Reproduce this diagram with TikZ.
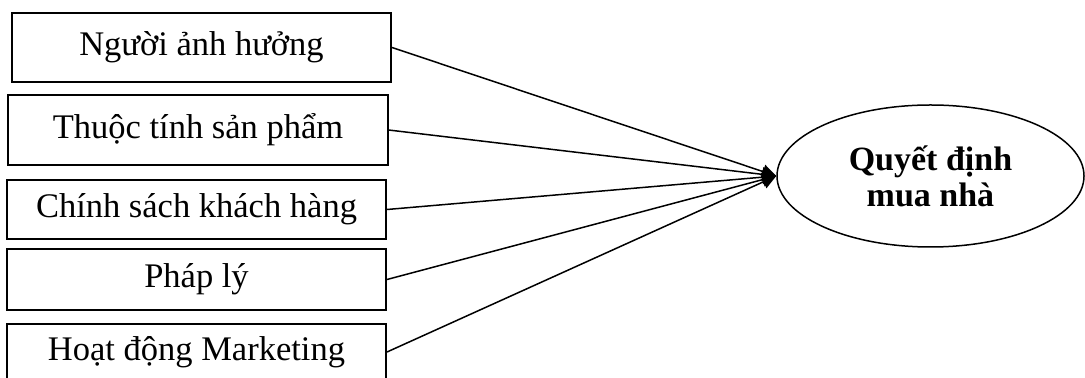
\documentclass[tikz,border=0pt]{standalone}
\usepackage{fontspec}
\setmainfont{Liberation Serif}
\usepackage{tikz}
\usetikzlibrary{positioning, shapes.geometric, arrows.meta}

\begin{document}
\begin{tikzpicture}[x=0.4pt, y=-0.4pt,
    factor/.style={draw, line width=0.8pt, minimum width=151.6pt, inner sep=0pt, font=\fontsize{13.8}{16}\selectfont},
    goal/.style={draw, ellipse, line width=0.6pt, minimum width=122.8pt, minimum height=56.8pt, inner sep=0pt, align=center, font=\fontsize{13.6}{14.4}\selectfont\bfseries},
    link/.style={line width=0.6pt, -{Triangle[length=5.6pt, width=5.6pt]}}]
    \useasboundingbox (0,0) rectangle (1085,378);

    % Factors on the left
    \foreach \i/\x/\y/\h/\t in {1/201.5/47.5/69/{Người ảnh hưởng}, 2/198/130/70/{Thuộc tính sản phẩm}, 3/196.5/209.5/59/{Chính sách khách hàng}, 4/196.5/279.5/61/{Pháp lý}, 5/196.5/352/56/{Hoạt động Marketing}} {
      \node[factor, minimum height=\h*0.4pt] (f\i) at (\x,\y) {\t};
    }

    % Decision
    \node[goal] (quyetdinh) at (930.5,176) {\raisebox{-1.2pt}{\parbox{70pt}{\centering Quyết định\\mua nhà}}};

    % Arrows into the decision
    \foreach \i in {1,...,5} {
      \draw[link] (f\i.east) -- (quyetdinh.west);
    }
\end{tikzpicture}
\end{document}
